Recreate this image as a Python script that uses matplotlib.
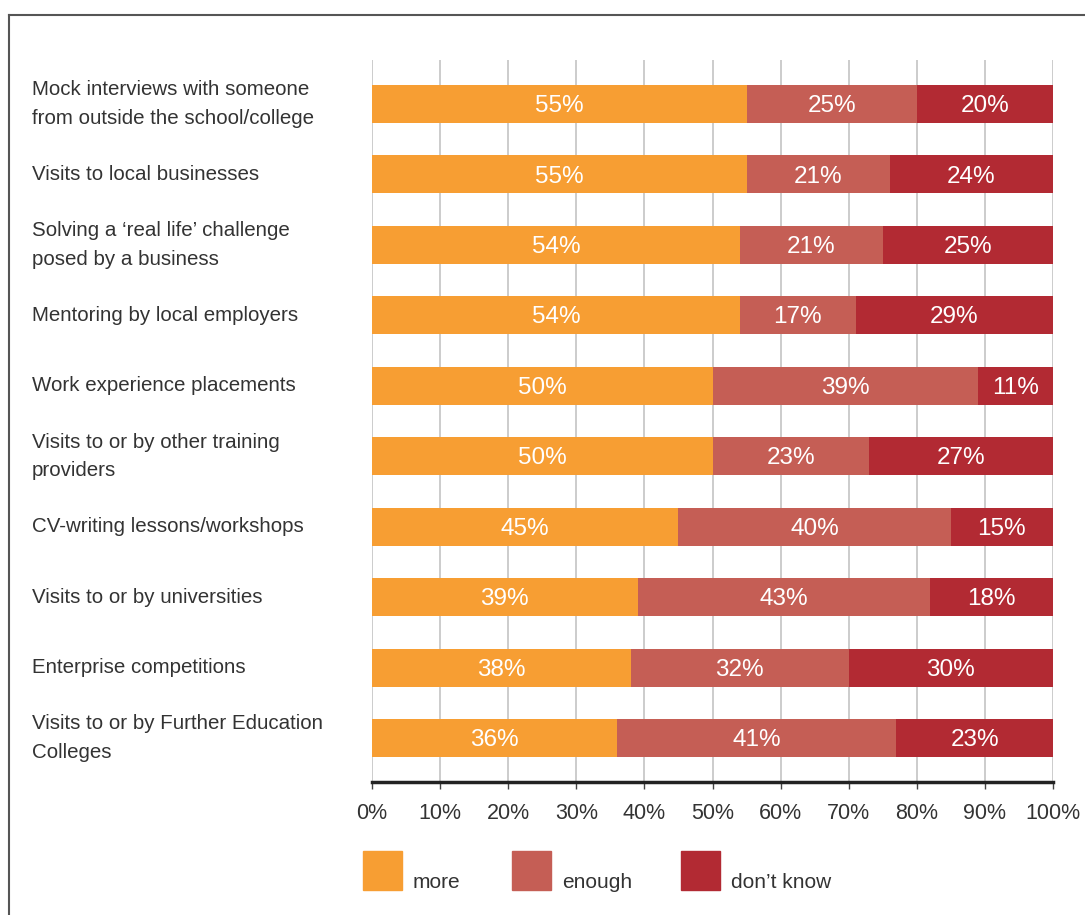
import numpy as np
import matplotlib.pyplot as plt
from matplotlib.patches import Rectangle
from matplotlib.lines import Line2D
from matplotlib import transforms

plt.rcParams['font.family'] = ['Liberation Sans', 'DejaVu Sans']

categories = [
    "Mock interviews with someone\nfrom outside the school/college",
    "Visits to local businesses",
    "Solving a \u2018real life\u2019 challenge\nposed by a business",
    "Mentoring by local employers",
    "Work experience placements",
    "Visits to or by other training\nproviders",
    "CV-writing lessons/workshops",
    "Visits to or by universities",
    "Enterprise competitions",
    "Visits to or by Further Education\nColleges",
]
more = [55, 55, 54, 54, 50, 50, 45, 39, 38, 36]
enough = [25, 21, 21, 17, 39, 23, 40, 43, 32, 41]
dont_know = [20, 24, 25, 29, 11, 27, 15, 18, 30, 23]
series_names = ["more", "enough", "don\u2019t know"]
colors = ["#F79E33", "#C55E55", "#B22A33"]
text_color = "#333333"

W, H = 1085, 915
fig = plt.figure(figsize=(W / 100, H / 100), dpi=100)
ax = fig.add_axes([372 / W, (H - 782) / H, 681 / W, 722 / H])

y = np.arange(len(categories))
left = np.zeros(len(categories))
for vals, c in zip([more, enough, dont_know], colors):
    vals = np.array(vals)
    ax.barh(y, vals, left=left, height=0.54, color=c, zorder=2)
    for yi, l, v in zip(y, left, vals):
        ax.text(l + v / 2, yi + 0.03, f"{v}%", ha="center", va="center",
                color="white", fontsize=17.5, zorder=3)
    left += vals

ax.set_xlim(0, 100)
ax.set_ylim(len(categories) - 0.375, -0.625)
ax.set_xticks(np.arange(0, 101, 10))
ax.set_xticklabels([f"{t}%" for t in range(0, 101, 10)])
ax.set_yticks([])
ax.grid(axis="x", color="#c8c8c8", linewidth=1.3, zorder=0)
for s in ["top", "right", "left"]:
    ax.spines[s].set_visible(False)
ax.spines["bottom"].set_color("#222222")
ax.spines["bottom"].set_linewidth(2.5)
ax.spines["bottom"].set_zorder(4)
ax.tick_params(axis="x", length=5, width=1, color="#444444", pad=10,
               labelsize=15.5, labelcolor=text_color)

# category labels, left aligned
trans = transforms.blended_transform_factory(fig.transFigure, ax.transData)
for yi, lab in zip(y, categories):
    ax.text(32 / W, yi, lab, transform=trans, ha="left", va="center",
            fontsize=14.8, color=text_color, linespacing=1.62)

# legend
legend_x = [363, 512, 681]
for lx, name, c in zip(legend_x, series_names, colors):
    fig.add_artist(Rectangle((lx / W, (H - 890) / H), 39 / W, 39 / H,
                             transform=fig.transFigure, color=c))
    fig.text((lx + 50) / W, (H - 888) / H, name, ha="left", va="baseline",
             fontsize=15, color=text_color)

# frame
fig.add_artist(Line2D([9 / W, 9 / W], [0, (H - 15) / H], transform=fig.transFigure,
                      color="#555555", linewidth=1.5))
fig.add_artist(Line2D([9 / W, 1], [(H - 15) / H, (H - 15) / H], transform=fig.transFigure,
                      color="#555555", linewidth=1.5))

fig.savefig("out.png", dpi=100)
